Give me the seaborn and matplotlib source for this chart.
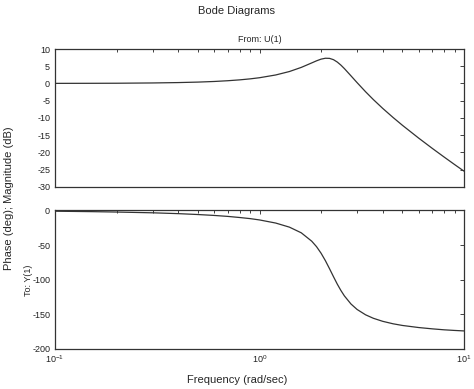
import numpy as np
import pandas as pd
import matplotlib
matplotlib.use("Agg")
import matplotlib.pyplot as plt
import seaborn as sns
from matplotlib.ticker import LogLocator, LogFormatterSciNotation, NullFormatter, MultipleLocator

# values (frequency in rad/sec)
freq = [0.1, 0.15, 0.2, 0.3, 0.4, 0.5, 0.6, 0.7, 0.8, 0.9, 1.0, 1.2, 1.4, 1.6,
        1.8, 1.9, 2.0, 2.1, 2.2, 2.3, 2.4, 2.5, 2.6, 2.8, 3.0, 3.3, 3.6, 4.0,
        4.5, 5.0, 6.0, 7.0, 8.0, 9.0, 10.0]
magnitude_db = [0.02, 0.04, 0.06, 0.14, 0.25, 0.39, 0.57, 0.79, 1.04, 1.33,
                1.66, 2.46, 3.46, 4.66, 5.96, 6.57, 7.06, 7.32, 7.28, 6.90,
                6.21, 5.32, 4.31, 2.21, 0.23, -2.41, -4.67, -7.23, -9.90,
                -12.17, -15.88, -18.88, -21.40, -23.58, -25.49]
phase_deg = [-1.1, -1.7, -2.3, -3.4, -4.6, -5.9, -7.2, -8.6, -10.2, -11.8,
             -13.7, -18.2, -24.1, -32.3, -44.4, -52.3, -61.8, -72.6, -84.2,
             -95.7, -106.4, -115.6, -123.4, -135.1, -143.0, -150.7, -155.7,
             -160.1, -163.7, -166.1, -169.1, -171.0, -172.4, -173.3, -174.0]

df = pd.DataFrame({"freq": freq, "mag": magnitude_db, "phase": phase_deg})

sns.set_theme(style="white")
plt.rcParams["font.family"] = ["Liberation Sans", "DejaVu Sans"]
plt.rcParams["mathtext.fontset"] = "custom"
plt.rcParams["mathtext.rm"] = "Liberation Sans"
plt.rcParams["mathtext.it"] = "Liberation Sans"
plt.rcParams["axes.unicode_minus"] = False

fig = plt.figure(figsize=(4.74, 3.89), dpi=100)
ax_mag = fig.add_axes([0.116, 0.520, 0.863, 0.354])
ax_ph = fig.add_axes([0.116, 0.103, 0.863, 0.356])

line_kw = dict(color="#333333", linewidth=0.9, legend=False)
sns.lineplot(data=df, x="freq", y="mag", ax=ax_mag, **line_kw)
sns.lineplot(data=df, x="freq", y="phase", ax=ax_ph, **line_kw)

for ax in (ax_mag, ax_ph):
    ax.set_xscale("log")
    ax.set_xlim(0.1, 10)
    ax.xaxis.set_major_locator(LogLocator(base=10))
    ax.xaxis.set_minor_locator(LogLocator(base=10, subs=np.arange(2, 10)))
    ax.xaxis.set_minor_formatter(NullFormatter())
    ax.tick_params(which="both", direction="in", top=True, right=True,
                   labelsize=6.5, colors="#222222", length=3, width=0.6)
    ax.tick_params(which="minor", length=2)
    for sp in ax.spines.values():
        sp.set_color("#333333")
        sp.set_linewidth(0.9)
    ax.set_xlabel("")
    ax.set_ylabel("")

ax_mag.set_ylim(-30, 10)
ax_mag.yaxis.set_major_locator(MultipleLocator(5))
ax_mag.xaxis.set_major_formatter(NullFormatter())
ax_mag.set_title("From: U(1)", fontsize=6.5, pad=5)

ax_ph.set_ylim(-200, 0)
ax_ph.yaxis.set_major_locator(MultipleLocator(50))
ax_ph.xaxis.set_major_formatter(LogFormatterSciNotation())

fig.text(0.5, 0.972, "Bode Diagrams", ha="center", va="center", fontsize=8)
fig.text(0.5, 0.022, "Frequency (rad/sec)", ha="center", va="center", fontsize=8)
fig.text(0.018, 0.49, "Phase (deg); Magnitude (dB)", ha="center", va="center",
         rotation=90, fontsize=8)
fig.text(0.061, 0.28, "To: Y(1)", ha="center", va="center", rotation=90,
         fontsize=6.5)

fig.savefig("out.png", dpi=100, facecolor="white")
